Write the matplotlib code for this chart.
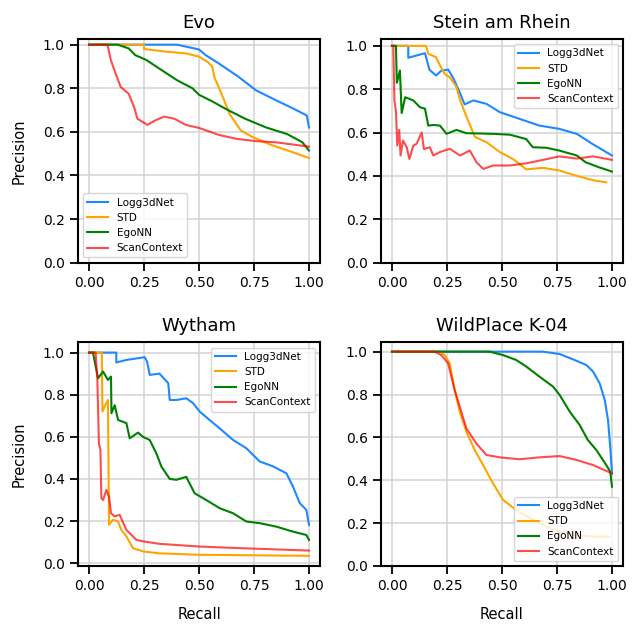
import numpy as np
import matplotlib
matplotlib.use("Agg")
import matplotlib.pyplot as plt

methods = ["Logg3dNet", "STD", "EgoNN", "ScanContext"]
colors = ["#1e88ff", "orange", "green", "red"]
alphas = [1.0, 1.0, 1.0, 0.7]
titles = ["Evo", "Stein am Rhein", "Wytham", "WildPlace K-04"]

# --- Evo ---
evo_logg_r = [0, 0.40, 0.50, 0.53, 0.59, 0.68, 0.76, 0.85, 0.93, 0.99, 1.0]
evo_logg_p = [1.0, 1.0, 0.978, 0.952, 0.914, 0.852, 0.79, 0.745, 0.706, 0.675, 0.62]
evo_std_r = [0, 0.25, 0.25, 0.35, 0.44, 0.50, 0.54, 0.56, 0.57, 0.60, 0.64, 0.69, 0.745, 0.836, 0.927, 1.0]
evo_std_p = [1.0, 1.0, 0.98, 0.968, 0.96, 0.945, 0.92, 0.90, 0.85, 0.78, 0.68, 0.606, 0.575, 0.537, 0.506, 0.48]
evo_ego_r = [0, 0.13, 0.18, 0.21, 0.26, 0.32, 0.40, 0.47, 0.50, 0.56, 0.62, 0.71, 0.805, 0.90, 0.97, 1.0]
evo_ego_p = [1.0, 1.0, 0.983, 0.952, 0.93, 0.89, 0.837, 0.80, 0.77, 0.74, 0.706, 0.66, 0.62, 0.59, 0.552, 0.514]
evo_sc_r = [0, 0.084, 0.099, 0.12, 0.144, 0.18, 0.205, 0.22, 0.266, 0.30, 0.342, 0.388, 0.44, 0.50,
            0.59, 0.67, 0.76, 0.85, 1.0]
evo_sc_p = [1.0, 1.0, 0.93, 0.87, 0.806, 0.775, 0.714, 0.66, 0.632, 0.652, 0.67, 0.66, 0.632, 0.618,
            0.586, 0.568, 0.557, 0.552, 0.532]

# --- Stein am Rhein ---
sar_logg_r = [0, 0.074, 0.074, 0.15, 0.17, 0.20, 0.225, 0.256, 0.28, 0.31, 0.33, 0.37, 0.43, 0.49,
              0.58, 0.67, 0.76, 0.84, 0.91, 1.0]
sar_logg_p = [1.0, 1.0, 0.945, 0.966, 0.89, 0.863, 0.886, 0.89, 0.848, 0.78, 0.73, 0.748, 0.732, 0.694,
              0.663, 0.632, 0.617, 0.594, 0.548, 0.494]
sar_std_r = [0, 0.154, 0.165, 0.20, 0.218, 0.24, 0.263, 0.293, 0.31, 0.34, 0.377, 0.43, 0.49, 0.55,
             0.61, 0.687, 0.76, 0.84, 0.914, 0.974]
sar_std_p = [1.0, 1.0, 0.963, 0.948, 0.91, 0.87, 0.855, 0.81, 0.748, 0.67, 0.58, 0.555, 0.51, 0.478,
             0.43, 0.437, 0.425, 0.40, 0.38, 0.37]
sar_ego_r = [0, 0.018, 0.022, 0.029, 0.036, 0.044, 0.06, 0.097, 0.127, 0.15, 0.165, 0.188, 0.218,
             0.248, 0.293, 0.339, 0.46, 0.536, 0.58, 0.61, 0.64, 0.70, 0.76, 0.84, 0.88, 0.94, 1.0]
sar_ego_p = [1.0, 1.0, 0.83, 0.855, 0.886, 0.69, 0.763, 0.748, 0.717, 0.71, 0.632, 0.635, 0.632,
             0.594, 0.612, 0.597, 0.594, 0.59, 0.578, 0.57, 0.532, 0.53, 0.517, 0.494, 0.463, 0.44, 0.42]
sar_sc_r = [0, 0.006, 0.011, 0.018, 0.024, 0.033, 0.039, 0.05, 0.067, 0.079, 0.097, 0.112, 0.135,
            0.145, 0.172, 0.188, 0.218, 0.263, 0.309, 0.354, 0.384, 0.415, 0.46, 0.536, 0.61, 0.687,
            0.76, 0.84, 0.914, 1.0]
sar_sc_p = [1.0, 1.0, 0.748, 0.70, 0.54, 0.612, 0.494, 0.563, 0.532, 0.478, 0.54, 0.548, 0.60,
            0.524, 0.532, 0.494, 0.51, 0.525, 0.494, 0.517, 0.463, 0.432, 0.448, 0.448, 0.458, 0.474,
            0.49, 0.48, 0.49, 0.474]

# --- Wytham ---
wyt_logg_r = [0, 0.124, 0.124, 0.17, 0.253, 0.264, 0.276, 0.32, 0.36, 0.367, 0.397, 0.442, 0.473,
              0.503, 0.548, 0.594, 0.655, 0.715, 0.776, 0.836, 0.897, 0.927, 0.958, 0.988, 1.0]
wyt_logg_p = [1.0, 1.0, 0.953, 0.965, 0.978, 0.957, 0.894, 0.90, 0.855, 0.775, 0.775, 0.783, 0.76,
              0.72, 0.68, 0.64, 0.585, 0.546, 0.483, 0.46, 0.427, 0.364, 0.285, 0.253, 0.182]
wyt_std_r = [0, 0.058, 0.061, 0.071, 0.086, 0.091, 0.109, 0.132, 0.147, 0.17, 0.20, 0.25, 0.32,
             0.50, 1.0]
wyt_std_p = [1.0, 1.0, 0.72, 0.744, 0.775, 0.182, 0.206, 0.198, 0.158, 0.127, 0.071, 0.055, 0.047,
             0.04, 0.035]
wyt_ego_r = [0, 0.018, 0.041, 0.064, 0.086, 0.10, 0.102, 0.117, 0.132, 0.17, 0.185, 0.223, 0.245,
             0.276, 0.306, 0.329, 0.367, 0.397, 0.442, 0.48, 0.533, 0.594, 0.655, 0.715, 0.776, 0.85,
             0.927, 0.988, 1.0]
wyt_ego_p = [1.0, 1.0, 0.878, 0.91, 0.87, 0.886, 0.712, 0.75, 0.68, 0.665, 0.593, 0.62, 0.60,
             0.585, 0.522, 0.459, 0.40, 0.396, 0.41, 0.332, 0.30, 0.261, 0.237, 0.198, 0.19, 0.174,
             0.15, 0.134, 0.11]
wyt_sc_r = [0, 0.03, 0.038, 0.045, 0.052, 0.056, 0.064, 0.079, 0.091, 0.10, 0.117, 0.139, 0.17,
            0.215, 0.25, 0.32, 0.503, 0.70, 1.0]
wyt_sc_p = [1.0, 1.0, 0.87, 0.57, 0.538, 0.309, 0.30, 0.348, 0.316, 0.237, 0.222, 0.23, 0.158,
            0.111, 0.103, 0.092, 0.079, 0.071, 0.06]

# --- WildPlace K-04 ---
wp_logg_r = [0, 0.686, 0.762, 0.823, 0.883, 0.914, 0.944, 0.967, 0.982, 0.992, 1.0]
wp_logg_p = [1.0, 1.0, 0.989, 0.964, 0.938, 0.907, 0.852, 0.775, 0.681, 0.557, 0.432]
wp_std_r = [0, 0.217, 0.24, 0.262, 0.285, 0.308, 0.338, 0.376, 0.414, 0.459, 0.505, 0.565, 0.641,
            0.732, 0.823, 0.914, 0.99]
wp_std_p = [1.0, 1.0, 0.984, 0.946, 0.821, 0.72, 0.627, 0.541, 0.471, 0.386, 0.308, 0.261, 0.215,
            0.168, 0.145, 0.137, 0.137]
wp_ego_r = [0, 0.444, 0.505, 0.565, 0.611, 0.671, 0.732, 0.762, 0.808, 0.853, 0.89, 0.929, 0.974,
            0.992, 1.0]
wp_ego_p = [1.0, 1.0, 0.984, 0.961, 0.93, 0.883, 0.837, 0.798, 0.72, 0.658, 0.588, 0.541, 0.471,
            0.44, 0.37]
wp_sc_r = [0, 0.194, 0.224, 0.255, 0.285, 0.308, 0.338, 0.383, 0.429, 0.489, 0.58, 0.671, 0.762,
           0.838, 0.914, 1.0]
wp_sc_p = [1.0, 1.0, 0.984, 0.946, 0.821, 0.743, 0.642, 0.572, 0.518, 0.507, 0.498, 0.507, 0.513,
           0.495, 0.471, 0.432]

curves = [
    [(evo_logg_r, evo_logg_p), (evo_std_r, evo_std_p), (evo_ego_r, evo_ego_p), (evo_sc_r, evo_sc_p)],
    [(sar_logg_r, sar_logg_p), (sar_std_r, sar_std_p), (sar_ego_r, sar_ego_p), (sar_sc_r, sar_sc_p)],
    [(wyt_logg_r, wyt_logg_p), (wyt_std_r, wyt_std_p), (wyt_ego_r, wyt_ego_p), (wyt_sc_r, wyt_sc_p)],
    [(wp_logg_r, wp_logg_p), (wp_std_r, wp_std_p), (wp_ego_r, wp_ego_p), (wp_sc_r, wp_sc_p)],
]
legend_locs = ["lower left", "upper right", "upper right", "lower right"]
zero_bottom = [True, True, False, True]

plt.rcParams["font.family"] = "DejaVu Sans"
fig, axes = plt.subplots(2, 2, figsize=(6.41, 6.25), dpi=100)
fig.subplots_adjust(left=0.1217, right=0.9719, top=0.9376, bottom=0.0944, wspace=0.252, hspace=0.357)

for i, ax in enumerate(axes.flat):
    for j, (r, p) in enumerate(curves[i]):
        ax.plot(r, p, color=colors[j], alpha=alphas[j], lw=1.5, label=methods[j])
    ax.set_title(titles[i], fontsize=13, pad=8)
    ax.grid(True, color="#d3d3d3", lw=1.1)
    ax.set_axisbelow(True)
    ax.set_xticks([0, 0.25, 0.5, 0.75, 1.0])
    ax.set_yticks([0, 0.2, 0.4, 0.6, 0.8, 1.0])
    ax.tick_params(labelsize=10, length=6, width=1.3)
    for s in ax.spines.values():
        s.set_linewidth(1.5)
    if zero_bottom[i]:
        ax.set_ylim(bottom=0)
    if i % 2 == 0:
        ax.set_ylabel("Precision", fontsize=10.5, labelpad=12)
    if i >= 2:
        ax.set_xlabel("Recall", fontsize=10.5, labelpad=10)
    ax.legend(loc=legend_locs[i], fontsize=7.5)

fig.savefig("out.png", dpi=100)
